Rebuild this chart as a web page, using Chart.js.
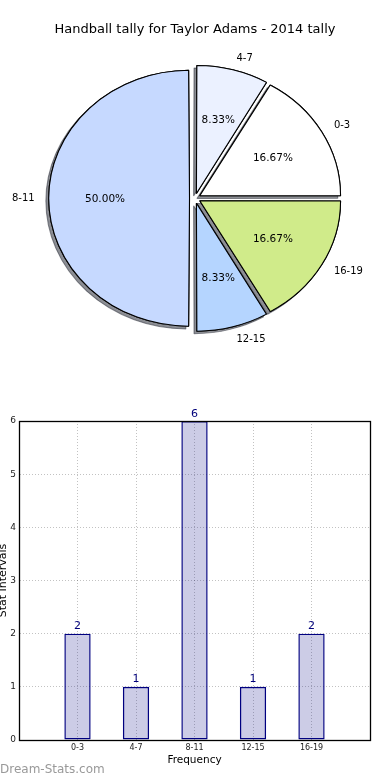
<!DOCTYPE html>
<html><head><meta charset="utf-8">
<script src="https://cdn.jsdelivr.net/npm/chart.js@4.4.0/dist/chart.umd.min.js"></script>
<style>
html,body{margin:0;padding:0;background:#fff;width:390px;height:780px;overflow:hidden;}
#pieWrap{position:absolute;left:0;top:0;width:390px;height:359px;}
#barWrap{position:absolute;left:0;top:400px;width:390px;height:380px;}
#wm{position:absolute;left:0;top:763px;font-family:'DejaVu Sans';font-size:12px;line-height:1;color:#999;white-space:nowrap;}
canvas{display:block;}
</style></head><body>
<div id="pieWrap"><canvas id="pie" width="390" height="359"></canvas></div>
<div id="barWrap"><canvas id="bar" width="390" height="380"></canvas></div>
<div id="wm">Dream-Stats.com</div>
<script>
const chartTitle = 'Handball tally for Taylor Adams - 2014 tally';
const categories = ['0-3', '4-7', '8-11', '12-15', '16-19'];
const counts = [2, 1, 6, 1, 2];
const sliceColors = ['#ffffff', '#ebf1ff', '#c6d9ff', '#b5d5ff', '#d0eb8a'];
const yTicks = [0, 1, 2, 3, 4, 5, 6];
const xTitle = 'Frequency';
const yTitle = 'Stat Intervals';

const R = 128, SX = 1.1, OFFSET = 20;
const total = counts.reduce((a, b) => a + b, 0);
const pieLabels = categories.slice().reverse();
const pieValues = counts.slice().reverse();
const pieColors = sliceColors.slice().reverse();
const FONT = 'DejaVu Sans';

const ellipsePlugin = {
  id: 'ellipse',
  beforeDatasetsDraw(chart) {
    const ctx = chart.ctx;
    const meta = chart.getDatasetMeta(0);
    const cx = meta.data[0].x, cy = meta.data[0].y;
    meta.data.forEach(arc => {
      const fix = 1 - Math.sin(Math.min(Math.PI, arc.circumference));
      arc.outerRadius = R - (OFFSET / 4) * fix;
    });
    ctx.save();
    ctx.translate(cx, cy); ctx.scale(SX, 1); ctx.translate(-cx, -cy);
    ctx.save();
    ctx.shadowColor = 'rgba(45,50,60,0.55)';
    ctx.shadowOffsetX = -2.8; ctx.shadowOffsetY = 2.6; ctx.shadowBlur = 0;
    meta.data.forEach(arc => arc.draw(ctx));
    ctx.restore();
  },
  afterDatasetsDraw(chart) { chart.ctx.restore(); }
};

const pieLabelPlugin = {
  id: 'pieLabels',
  afterDraw(chart) {
    const ctx = chart.ctx;
    const meta = chart.getDatasetMeta(0);
    const ds = chart.data.datasets[0];
    meta.data.forEach((arc, i) => {
      const mid = (arc.startAngle + arc.endAngle) / 2;
      const t = OFFSET / 4;
      const c = Math.cos(mid), s = Math.sin(mid);
      const ex = arc.x + c * t * SX, ey = arc.y + s * t;
      ctx.save();
      ctx.fillStyle = '#000';
      ctx.textBaseline = 'middle';
      ctx.font = "10px '" + FONT + "'";
      ctx.textAlign = c > 0 ? 'left' : 'right';
      ctx.fillText(chart.data.labels[i], ex + c * 1.1 * R * SX, ey + s * 1.1 * R + 0.5);
      ctx.font = "10.5px '" + FONT + "'";
      ctx.textAlign = 'center';
      ctx.fillText((ds.data[i] / total * 100).toFixed(2) + '%', ex + c * 0.6 * R * SX, ey + s * 0.6 * R + 0.5);
      ctx.restore();
    });
  }
};

new Chart(document.getElementById('pie'), {
  type: 'pie',
  data: {
    labels: pieLabels,
    datasets: [{
      data: pieValues, backgroundColor: pieColors, borderColor: '#000', borderWidth: 1,
      offset: OFFSET, hoverOffset: 0, radius: R, clip: false
    }]
  },
  options: {
    responsive: false, animation: false, rotation: 90,
    layout: { padding: 0 },
    plugins: {
      legend: { display: false }, tooltip: { enabled: false },
      title: { display: true, text: chartTitle, color: '#000',
        font: { family: FONT, size: 13, weight: 'normal' }, padding: { top: 22, bottom: 0 } }
    }
  },
  plugins: [ellipsePlugin, pieLabelPlugin]
});

const boxPlugin = {
  id: 'box',
  afterDatasetsDraw(chart) {
    const { left, top, right, bottom } = chart.chartArea;
    const ctx = chart.ctx;
    ctx.save();
    ctx.strokeStyle = '#000'; ctx.lineWidth = 1.3;
    ctx.strokeRect(Math.round(left) + 0.5, Math.round(top) + 0.5, Math.round(right - left), Math.round(bottom - top));
    ctx.restore();
  }
};
const valuePlugin = {
  id: 'values',
  afterDatasetsDraw(chart) {
    const ctx = chart.ctx;
    const meta = chart.getDatasetMeta(0);
    const data = chart.data.datasets[0].data;
    ctx.save();
    ctx.fillStyle = '#00007a';
    ctx.font = "11px '" + FONT + "'";
    ctx.textAlign = 'center';
    ctx.textBaseline = 'alphabetic';
    meta.data.forEach((bar, i) => {
      if (data[i] == null) return;
      ctx.fillText(String(data[i]), bar.x, bar.y - 4.5);
    });
    ctx.restore();
  }
};

const gridOpts = { color: 'rgba(0,0,0,0.24)', lineWidth: 1, drawTicks: false, offset: false };
const borderOpts = { display: true, color: '#000', width: 1, dash: [1, 2] };

new Chart(document.getElementById('bar'), {
  type: 'bar',
  data: {
    labels: ['', ...categories, ''],
    datasets: [{
      data: [null, ...counts, null],
      backgroundColor: 'rgba(0,0,128,0.2)', borderColor: '#000080', borderWidth: 1.4,
      borderSkipped: false, barPercentage: 0.45, categoryPercentage: 1
    }]
  },
  options: {
    responsive: false, animation: false,
    layout: { padding: { top: 21, right: 20, left: 0, bottom: 0 } },
    plugins: { legend: { display: false }, tooltip: { enabled: false } },
    scales: {
      x: {
        offset: false, grid: gridOpts, border: borderOpts,
        ticks: { font: { family: FONT, size: 8 }, color: '#222', padding: 3, maxRotation: 0, minRotation: 0, autoSkip: false },
        title: { display: true, text: xTitle, color: '#000', font: { family: FONT, size: 10.5 }, padding: { top: 0, bottom: 13 } },
        afterFit(s) { s.height = 40; }
      },
      y: {
        min: 0, max: 6, grid: gridOpts, border: borderOpts,
        afterBuildTicks(s) { s.ticks = yTicks.map(v => ({ value: v })); },
        ticks: { font: { family: FONT, size: 9 }, color: '#222', padding: 3 },
        title: { display: true, text: yTitle, color: '#000', font: { family: FONT, size: 11 }, padding: { top: -3, bottom: 0 } },
        afterFit(s) { s.width = 19; }
      }
    }
  },
  plugins: [boxPlugin, valuePlugin]
});
</script>
</body></html>
